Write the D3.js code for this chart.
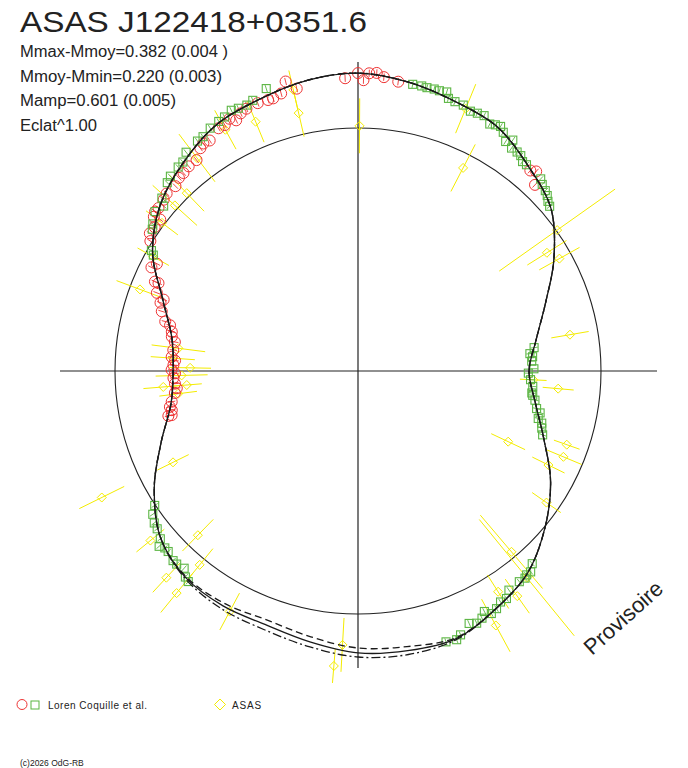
<!DOCTYPE html>
<html>
<head>
<meta charset="utf-8">
<script src="https://cdn.jsdelivr.net/npm/d3@7"></script>
<style>
    body { margin: 0; background: #fff; }
    text { font-family: "Liberation Sans", Arial, sans-serif; }
</style>
</head>
<body>
<div id="chart"></div>
<script>
const title = "ASAS J122418+0351.6";
const infoLines = ["Mmax-Mmoy=0.382 (0.004 )", "Mmoy-Mmin=0.220 (0.003)", "Mamp=0.601 (0.005)", "Eclat^1.00"];
const legendLoren = "Loren Coquille et al.";
const legendAsas = "ASAS";
const stamp = "(c)2026 OdG-RB";
const watermark = "Provisoire";

// fitted light curves: phase -> brightness relative to mean (Eclat^1)
const fitPhase = [0.000, 0.028, 0.056, 0.083, 0.111, 0.139, 0.167, 0.194, 0.222, 0.250, 0.278, 0.306,
    0.333, 0.361, 0.389, 0.417, 0.444, 0.472, 0.500, 0.528, 0.556, 0.583, 0.611, 0.639,
    0.667, 0.694, 0.722, 0.750, 0.778, 0.806, 0.833, 0.861, 0.889, 0.917, 0.944, 0.972];
const fitSolid = [1.226, 1.206, 1.178, 1.156, 1.095, 1.037, 0.930, 0.823, 0.745, 0.704, 0.741, 0.815,
    0.914, 1.004, 1.086, 1.132, 1.173, 1.169, 1.160, 1.132, 1.111, 1.115, 1.107, 1.062,
    0.967, 0.864, 0.782, 0.761, 0.778, 0.856, 0.975, 1.062, 1.119, 1.169, 1.189, 1.214];
const fitDashed = [1.226, 1.206, 1.178, 1.156, 1.095, 1.037, 0.930, 0.823, 0.745, 0.704, 0.741, 0.815,
    0.914, 1.004, 1.086, 1.132, 1.169, 1.152, 1.140, 1.111, 1.091, 1.103, 1.103, 1.062,
    0.967, 0.864, 0.782, 0.761, 0.778, 0.856, 0.975, 1.062, 1.119, 1.169, 1.189, 1.214];
const fitDashDot = [1.226, 1.206, 1.178, 1.156, 1.095, 1.037, 0.930, 0.823, 0.745, 0.704, 0.741, 0.815,
    0.914, 1.004, 1.086, 1.132, 1.177, 1.185, 1.177, 1.152, 1.132, 1.128, 1.111, 1.062,
    0.967, 0.864, 0.782, 0.761, 0.778, 0.856, 0.975, 1.062, 1.119, 1.169, 1.189, 1.214];

// Loren Coquille et al., first session (red circles)
const redPhase = [0.993, 0.000, 0.003, 0.006, 0.010, 0.014, 0.022,
    0.961, 0.966, 0.957, 0.952, 0.949, 0.943, 0.936, 0.932, 0.928, 0.925, 0.921, 0.917, 0.909, 0.905,
    0.902, 0.896, 0.890, 0.885, 0.881, 0.876, 0.869, 0.865, 0.859, 0.856, 0.854, 0.853, 0.848, 0.843, 0.839,
    0.824, 0.828, 0.816, 0.816, 0.809, 0.806, 0.803, 0.797, 0.790, 0.788, 0.783, 0.779, 0.775, 0.768,
    0.762, 0.759, 0.755, 0.751, 0.748, 0.744, 0.739, 0.735, 0.731, 0.724, 0.720, 0.717, 0.713, 0.713,
    0.116, 0.121, 0.113];
const redFlux = [1.206, 1.226, 1.197, 1.226, 1.229, 1.214, 1.202,
    1.228, 1.189, 1.185, 1.175, 1.175, 1.177, 1.173, 1.165, 1.147, 1.165, 1.151, 1.152, 1.128, 1.132,
    1.123, 1.093, 1.093, 1.086, 1.084, 1.069, 1.074, 1.066, 1.060, 1.062, 1.025, 1.053, 1.025, 1.027, 1.008,
    0.951, 0.938, 0.913, 0.897, 0.888, 0.852, 0.860, 0.844, 0.819, 0.796, 0.783, 0.779, 0.763, 0.765,
    0.769, 0.754, 0.760, 0.767, 0.753, 0.760, 0.755, 0.749, 0.759, 0.777, 0.788, 0.783, 0.802, 0.788,
    1.101, 1.057, 1.088];

// Loren Coquille et al., second session (green squares)
const greenPhase = [0.030, 0.035, 0.038, 0.042, 0.045, 0.049, 0.051, 0.055, 0.060, 0.065, 0.069, 0.073,
    0.078, 0.081, 0.084, 0.087, 0.091, 0.094, 0.096, 0.100, 0.103, 0.106, 0.109, 0.121, 0.124, 0.128,
    0.131, 0.134, 0.137,
    0.229, 0.234, 0.237, 0.241, 0.248, 0.252, 0.258, 0.264, 0.270, 0.272, 0.276, 0.283, 0.286, 0.291,
    0.294, 0.298, 0.303,
    0.383, 0.387, 0.390, 0.392, 0.396, 0.404, 0.408, 0.412, 0.416, 0.420, 0.423, 0.426, 0.430, 0.434,
    0.441, 0.444, 0.450,
    0.657, 0.653, 0.648, 0.644, 0.638, 0.635, 0.632, 0.629, 0.623, 0.620, 0.615, 0.611, 0.608,
    0.950, 0.941, 0.937, 0.932, 0.928, 0.923, 0.919, 0.913, 0.907, 0.903, 0.894, 0.889, 0.885, 0.878,
    0.874, 0.865, 0.862, 0.856, 0.849, 0.846, 0.834, 0.832];
const greenFlux = [1.201, 1.202, 1.200, 1.202, 1.201, 1.205, 1.182, 1.178, 1.177, 1.165, 1.169, 1.172,
    1.152, 1.160, 1.165, 1.150, 1.123, 1.144, 1.114, 1.114, 1.111, 1.096, 1.096, 1.091, 1.079, 1.070,
    1.062, 1.048, 1.040,
    0.731, 0.711, 0.721, 0.716, 0.724, 0.701, 0.711, 0.722, 0.721, 0.726, 0.738, 0.751, 0.769, 0.767,
    0.786, 0.792, 0.804,
    1.069, 1.090, 1.089, 1.095, 1.092, 1.095, 1.118, 1.117, 1.132, 1.139, 1.118, 1.138, 1.147, 1.135,
    1.165, 1.178, 1.172,
    1.003, 1.030, 1.046, 1.051, 1.067, 1.091, 1.078, 1.078, 1.090, 1.090, 1.082, 1.106, 1.113,
    1.222, 1.195, 1.186, 1.188, 1.193, 1.181, 1.176, 1.170, 1.156, 1.154, 1.145, 1.122, 1.119, 1.113,
    1.103, 1.076, 1.049, 1.062, 1.039, 1.028, 0.984, 0.968];
const lorenErr = 0.015;

// ASAS (yellow diamonds) with their error
const asasPhase = [0.001, 0.076, 0.062, 0.152, 0.161, 0.169, 0.223, 0.264, 0.258, 0.320, 0.304, 0.313,
    0.323, 0.347, 0.388, 0.391, 0.410, 0.402, 0.421, 0.509, 0.513, 0.578, 0.609, 0.619, 0.609, 0.623,
    0.641, 0.677, 0.677, 0.730, 0.737, 0.737, 0.746, 0.753, 0.761, 0.770, 0.807, 0.831, 0.867, 0.878,
    0.897, 0.920, 0.938, 0.964, 0.964, 0.853];
const asasFlux = [1.009, 0.941, 1.167, 1.004, 0.917, 0.949, 0.885, 0.827, 0.722, 0.683, 0.911, 0.916,
    0.874, 0.946, 0.976, 1.098, 1.076, 1.135, 1.191, 1.129, 1.218, 1.122, 1.180, 1.160, 1.030, 0.944,
    1.103, 1.176, 0.849, 0.746, 0.804, 0.707, 0.726, 0.691, 0.764, 0.745, 0.958, 0.965, 1.016, 1.016,
    1.099, 1.133, 1.109, 1.089, 1.187, 1.011];
const asasErr = [0.113, 0.109, 0.109, 0.292, 0.095, 0.095, 0.078, 0.064, 0.055, 0.077, 0.056, 0.082,
    0.074, 0.072, 0.198, 0.309, 0.082, 0.086, 0.123, 0.111, 0.070, 0.086, 0.103, 0.082, 0.086, 0.091,
    0.074, 0.103, 0.072, 0.078, 0.082, 0.062, 0.107, 0.086, 0.091, 0.111, 0.103, 0.074, 0.123, 0.103,
    0.123, 0.091, 0.091, 0.099, 0.082, 0.082];


const svgWidth = 688;
const svgHeight = 768;
const cx = 358;
const cy = 371;
const meanRadius = 243;

const red = "#ee3333";
const green = "#5bb543";
const yellow = "#f4ec00";
const ink = "#222";

const svg = d3.select("#chart")
    .append("svg")
    .attr("width", svgWidth)
    .attr("height", svgHeight)
    .style("background", "#fff");

const angleScale = d3.scaleLinear().domain([0, 1]).range([0, 2 * Math.PI]);
const radiusScale = d3.scaleLinear().domain([0, 1]).range([0, meanRadius]);

const plot = svg.append("g").attr("transform", `translate(${cx}, ${cy})`);

// axes and mean-brightness circle
plot.append("line")
    .attr("x1", -298).attr("x2", 299).attr("y1", 0).attr("y2", 0)
    .attr("stroke", ink).attr("stroke-width", 1.2);
plot.append("line")
    .attr("x1", 0).attr("x2", 0).attr("y1", -309).attr("y2", 297)
    .attr("stroke", ink).attr("stroke-width", 1.2);
plot.append("circle")
    .attr("r", radiusScale(1))
    .attr("fill", "none")
    .attr("stroke", ink)
    .attr("stroke-width", 1.1);

function zip(phases, fluxes, errs) {
    return phases.map((p, i) => ({
        phase: p,
        flux: fluxes[i],
        err: Array.isArray(errs) ? errs[i] : errs
    }));
}

const redData = zip(redPhase, redFlux, lorenErr);
const greenData = zip(greenPhase, greenFlux, lorenErr);
const asasData = zip(asasPhase, asasFlux, asasErr);

function pos(d, flux) {
    return d3.pointRadial(angleScale(d.phase), radiusScale(flux));
}

function drawErrors(data, color, width) {
    plot.append("g")
        .selectAll("line")
        .data(data)
        .enter()
        .append("line")
        .attr("x1", d => pos(d, d.flux - d.err)[0])
        .attr("y1", d => pos(d, d.flux - d.err)[1])
        .attr("x2", d => pos(d, d.flux + d.err)[0])
        .attr("y2", d => pos(d, d.flux + d.err)[1])
        .attr("stroke", color)
        .attr("stroke-width", width);
}

// ASAS
drawErrors(asasData, yellow, 1);
plot.append("g")
    .selectAll("path")
    .data(asasData)
    .enter()
    .append("path")
    .attr("transform", d => `translate(${pos(d, d.flux)})`)
    .attr("d", "M0,-4.5L4.5,0L0,4.5L-4.5,0Z")
    .attr("fill", "none")
    .attr("stroke", yellow)
    .attr("stroke-width", 1);

// Loren Coquille et al.
drawErrors(redData, red, 0.9);
drawErrors(greenData, green, 0.9);

plot.append("g")
    .selectAll("circle")
    .data(redData)
    .enter()
    .append("circle")
    .attr("cx", d => pos(d, d.flux)[0])
    .attr("cy", d => pos(d, d.flux)[1])
    .attr("r", 5.5)
    .attr("fill", "none")
    .attr("stroke", red)
    .attr("stroke-width", 1);

plot.append("g")
    .selectAll("rect")
    .data(greenData)
    .enter()
    .append("rect")
    .attr("x", d => pos(d, d.flux)[0] - 4)
    .attr("y", d => pos(d, d.flux)[1] - 4)
    .attr("width", 8)
    .attr("height", 8)
    .attr("fill", "none")
    .attr("stroke", green)
    .attr("stroke-width", 1.1);

// fitted curves
const radial = d3.lineRadial()
    .angle(d => angleScale(d[0]))
    .radius(d => radiusScale(d[1]))
    .curve(d3.curveCardinalClosed);

const fits = [
    { values: fitSolid, dash: null },
    { values: fitDashed, dash: "7,4" },
    { values: fitDashDot, dash: "9,3,2,3" }
];

fits.forEach(f => {
    plot.append("path")
        .attr("d", radial(fitPhase.map((p, i) => [p, f.values[i]])))
        .attr("fill", "none")
        .attr("stroke", "#1a1a1a")
        .attr("stroke-width", 1.3)
        .attr("stroke-dasharray", f.dash);
});

// texts
svg.append("text")
    .attr("x", 20)
    .attr("y", 32)
    .attr("font-size", "30px")
    .attr("textLength", 347)
    .attr("lengthAdjust", "spacingAndGlyphs")
    .attr("fill", ink)
    .text(title);

const infoWidths = [208, 202, 156, 77];

svg.selectAll(".info")
    .data(infoLines)
    .enter()
    .append("text")
    .attr("class", "info")
    .attr("x", 20)
    .attr("y", (d, i) => 57 + i * 24.5)
    .attr("font-size", "16px")
    .attr("textLength", (d, i) => infoWidths[i])
    .attr("lengthAdjust", "spacingAndGlyphs")
    .attr("fill", ink)
    .text(d => d);

svg.append("text")
    .attr("transform", "translate(592, 656) rotate(-42)")
    .attr("font-size", "22px")
    .attr("fill", ink)
    .text(watermark);

// legend
const legend = svg.append("g");
legend.append("circle")
    .attr("cx", 22).attr("cy", 704.5).attr("r", 5)
    .attr("fill", "none").attr("stroke", red);
legend.append("rect")
    .attr("x", 31).attr("y", 701).attr("width", 8).attr("height", 8)
    .attr("fill", "none").attr("stroke", green);
legend.append("text")
    .attr("x", 48).attr("y", 709)
    .attr("font-size", "10px")
    .attr("letter-spacing", "0.5px")
    .attr("fill", ink)
    .text(legendLoren);
legend.append("path")
    .attr("transform", "translate(220, 704.5)")
    .attr("d", "M0,-5.5L5.5,0L0,5.5L-5.5,0Z")
    .attr("fill", "none").attr("stroke", yellow);
legend.append("text")
    .attr("x", 232).attr("y", 709)
    .attr("font-size", "10px")
    .attr("letter-spacing", "0.8px")
    .attr("fill", ink)
    .text(legendAsas);

svg.append("text")
    .attr("x", 20).attr("y", 766)
    .attr("font-size", "8.5px")
    .attr("fill", ink)
    .text(stamp);
</script>
</body>
</html>
